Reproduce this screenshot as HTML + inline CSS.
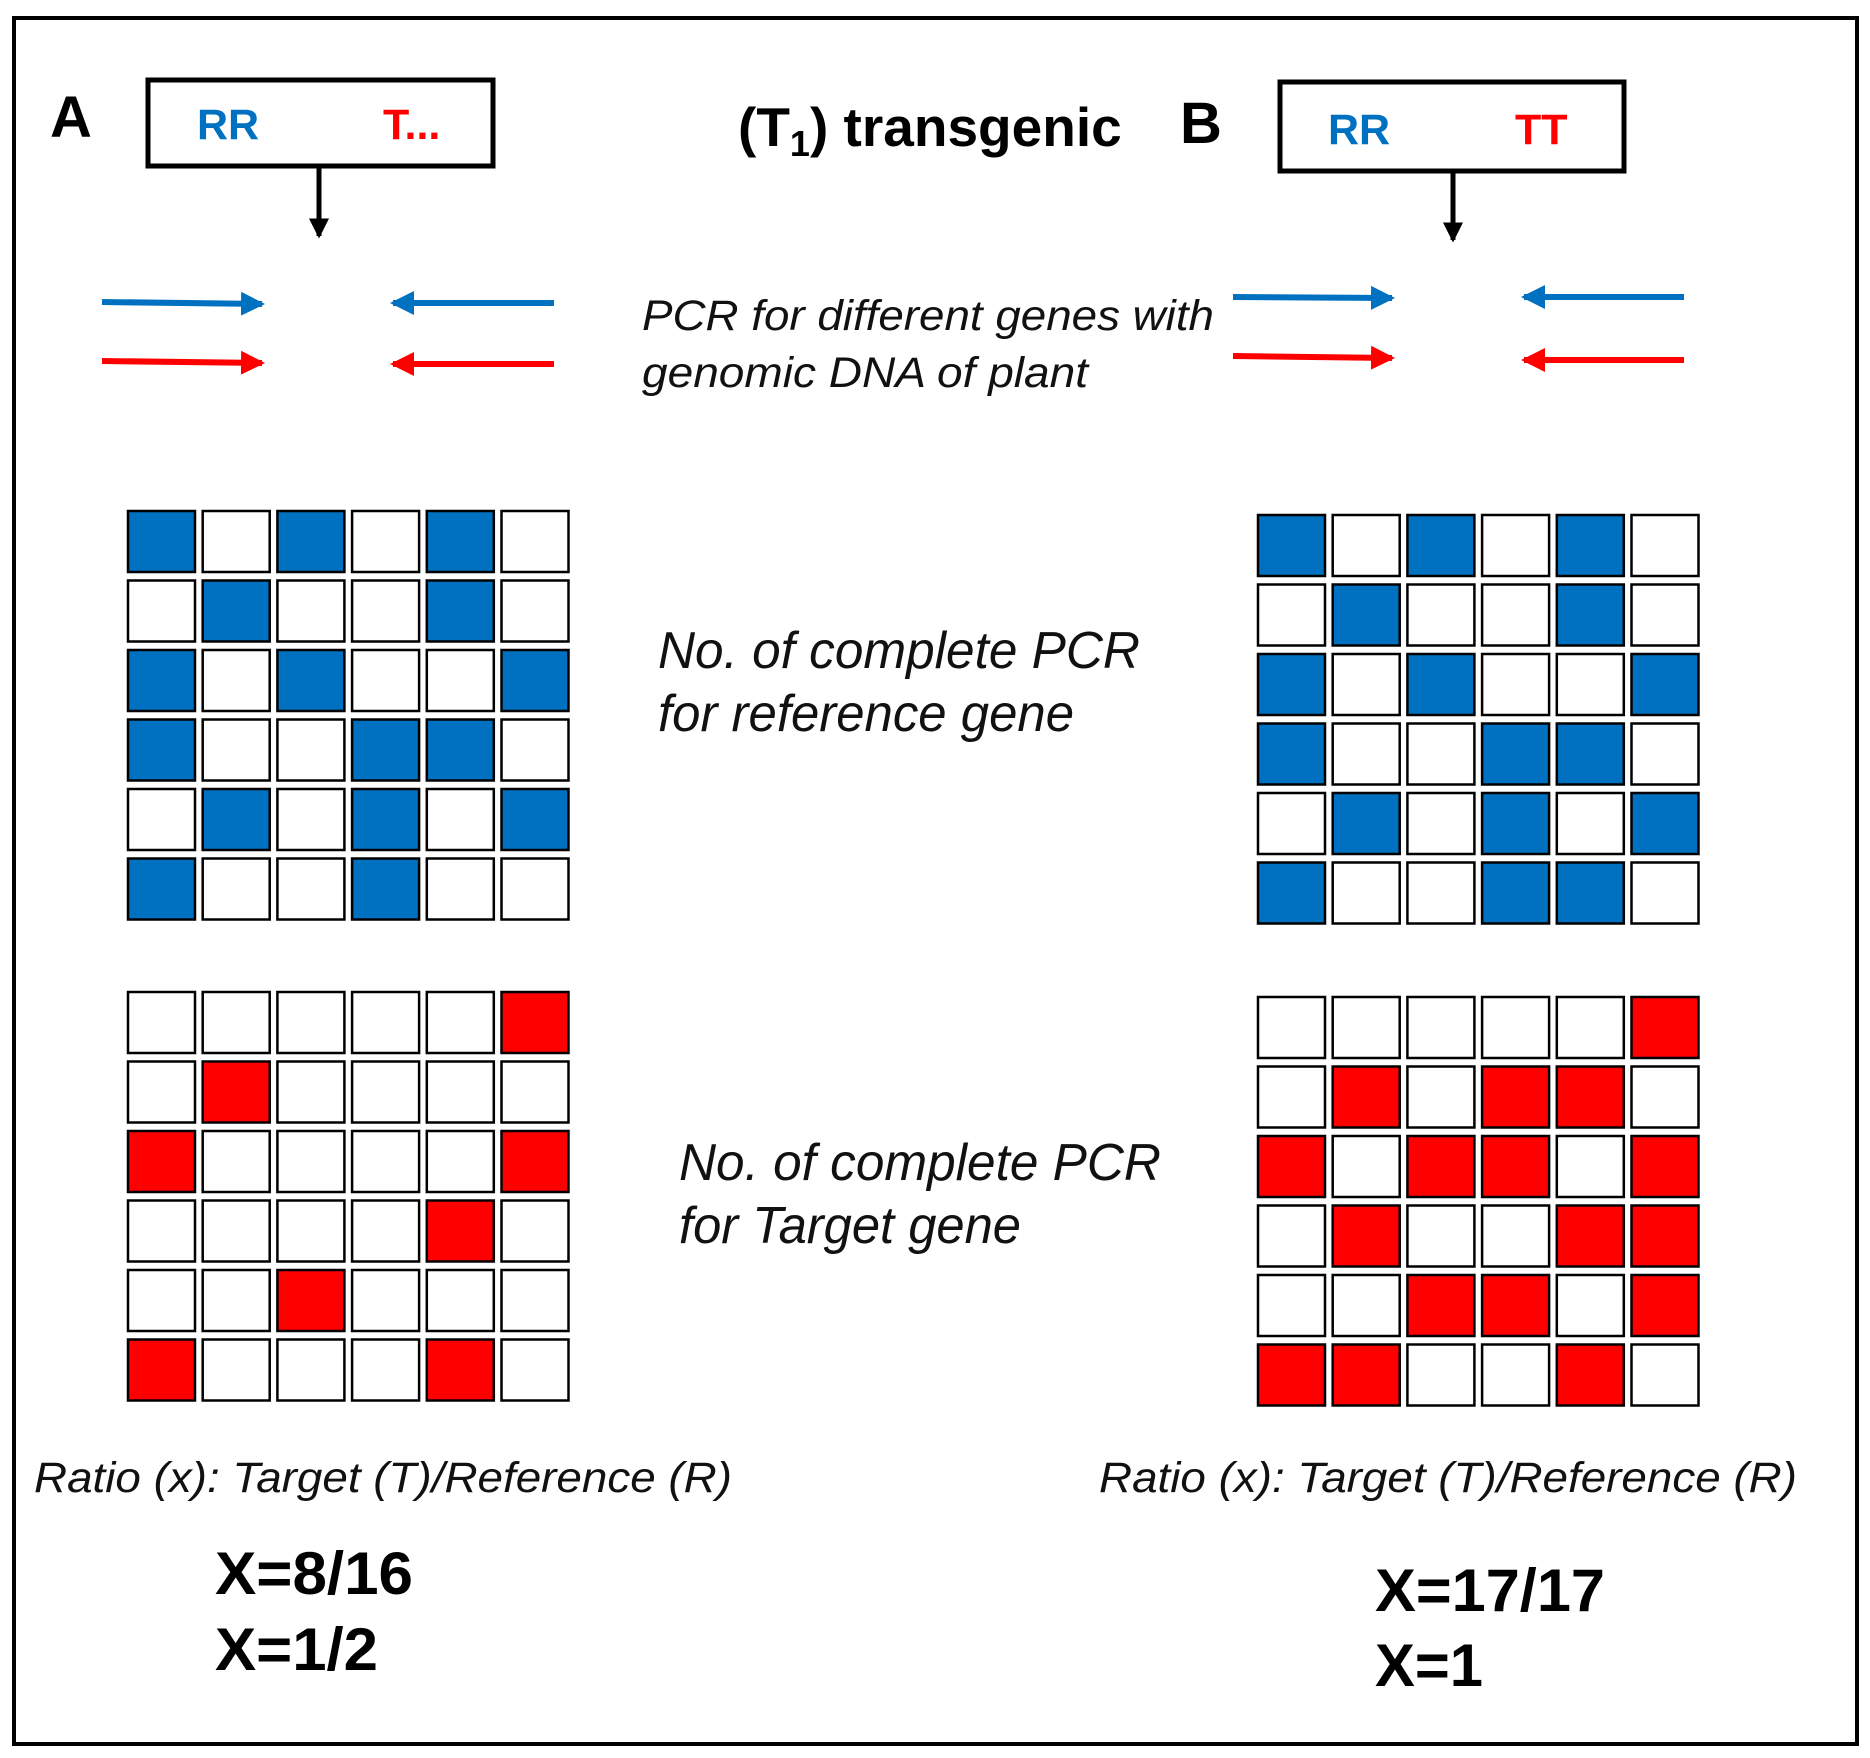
<!DOCTYPE html>
<html><head><meta charset="utf-8"><style>html,body{margin:0;padding:0;background:#fff}</style></head>
<body>
<svg width="1870" height="1753" viewBox="0 0 1870 1753" xmlns="http://www.w3.org/2000/svg" font-family="Liberation Sans, Arial, sans-serif">
<defs>
<marker id="hb" markerWidth="4" markerHeight="4" refX="3.5" refY="2" orient="auto" markerUnits="strokeWidth"><path d="M0,0 L4,2 L0,4 z" fill="#0070C0"/></marker>
<marker id="hr" markerWidth="4" markerHeight="4" refX="3.5" refY="2" orient="auto" markerUnits="strokeWidth"><path d="M0,0 L4,2 L0,4 z" fill="#FF0000"/></marker>
<marker id="hk" markerWidth="4" markerHeight="4" refX="3.5" refY="2" orient="auto" markerUnits="strokeWidth"><path d="M0,0 L4,2 L0,4 z" fill="#000"/></marker>
</defs>
<rect x="14" y="18" width="1843" height="1726" fill="none" stroke="#000" stroke-width="4"/>
<text x="50" y="137" font-size="58" font-weight="bold">A</text>
<rect x="148" y="80" width="345" height="86" fill="none" stroke="#000" stroke-width="5"/>
<text x="197" y="139" font-size="43" font-weight="bold" fill="#0070C0">RR</text>
<text x="383" y="139" font-size="43" font-weight="bold" fill="#FF0000">T...</text>
<line x1="319" y1="166" x2="319" y2="236" stroke="#000" stroke-width="5" marker-end="url(#hk)"/>
<text x="738" y="146" font-size="55" font-weight="bold">(T<tspan font-size="36" dy="10">1</tspan><tspan dy="-10">) transgenic</tspan></text>
<text x="1180" y="143" font-size="58" font-weight="bold">B</text>
<rect x="1280" y="82" width="344" height="89" fill="none" stroke="#000" stroke-width="5"/>
<text x="1328" y="144" font-size="43" font-weight="bold" fill="#0070C0">RR</text>
<text x="1515" y="144" font-size="43" font-weight="bold" fill="#FF0000">TT</text>
<line x1="1453" y1="171" x2="1453" y2="240" stroke="#000" stroke-width="5" marker-end="url(#hk)"/>
<g stroke-width="6">
<line x1="102" y1="302" x2="262" y2="304" stroke="#0070C0" marker-end="url(#hb)"/>
<line x1="554" y1="303" x2="393" y2="303" stroke="#0070C0" marker-end="url(#hb)"/>
<line x1="102" y1="361" x2="262" y2="363" stroke="#FF0000" marker-end="url(#hr)"/>
<line x1="554" y1="364" x2="393" y2="364" stroke="#FF0000" marker-end="url(#hr)"/>
<line x1="1233" y1="297" x2="1392" y2="298" stroke="#0070C0" marker-end="url(#hb)"/>
<line x1="1684" y1="297" x2="1524" y2="297" stroke="#0070C0" marker-end="url(#hb)"/>
<line x1="1233" y1="356" x2="1392" y2="358" stroke="#FF0000" marker-end="url(#hr)"/>
<line x1="1684" y1="360" x2="1524" y2="360" stroke="#FF0000" marker-end="url(#hr)"/>
</g>
<g font-style="italic" fill="#111">
<text x="642" y="330" font-size="43" textLength="572" lengthAdjust="spacingAndGlyphs">PCR for different genes with</text>
<text x="642" y="387" font-size="43" textLength="446" lengthAdjust="spacingAndGlyphs">genomic DNA of plant</text>
<text x="658" y="668" font-size="52" textLength="482" lengthAdjust="spacingAndGlyphs">No. of complete PCR</text>
<text x="658" y="731" font-size="52" textLength="416" lengthAdjust="spacingAndGlyphs">for reference gene</text>
<text x="679" y="1180" font-size="52" textLength="482" lengthAdjust="spacingAndGlyphs">No. of complete PCR</text>
<text x="679" y="1243" font-size="52" textLength="342" lengthAdjust="spacingAndGlyphs">for Target gene</text>
<text x="34" y="1492" font-size="43" textLength="698" lengthAdjust="spacingAndGlyphs">Ratio (x): Target (T)/Reference (R)</text>
<text x="1099" y="1492" font-size="43" textLength="698" lengthAdjust="spacingAndGlyphs">Ratio (x): Target (T)/Reference (R)</text>
</g>
<g font-weight="bold" font-size="60">
<text x="215" y="1594" textLength="198" lengthAdjust="spacingAndGlyphs">X=8/16</text>
<text x="215" y="1670" textLength="163" lengthAdjust="spacingAndGlyphs">X=1/2</text>
<text x="1375" y="1611" textLength="230" lengthAdjust="spacingAndGlyphs">X=17/17</text>
<text x="1375" y="1686" textLength="108" lengthAdjust="spacingAndGlyphs">X=1</text>
</g>
<g id="grids" stroke="#000" stroke-width="2.5"></g>
</svg>
<script>
(function(){
var g=document.getElementById('grids');
function grid(x0,y0,pat,col){
  for(var r=0;r<6;r++)for(var c=0;c<6;c++){
    var e=document.createElementNS('http://www.w3.org/2000/svg','rect');
    e.setAttribute('x',x0+c*74.7);e.setAttribute('y',y0+r*69.5);
    e.setAttribute('width',67);e.setAttribute('height',61);
    e.setAttribute('fill',pat[r][c]==='1'?col:'#fff');g.appendChild(e);
  }
}
var B='#0070C0',R='#FF0000';
grid(128,511,['101010','010010','101001','100110','010101','100100'],B);
grid(128,992,['000001','010000','100001','000010','001000','100010'],R);
grid(1258,515,['101010','010010','101001','100110','010101','100110'],B);
grid(1258,997,['000001','010110','101101','010011','001101','110010'],R);
})();
</script>
</body></html>
